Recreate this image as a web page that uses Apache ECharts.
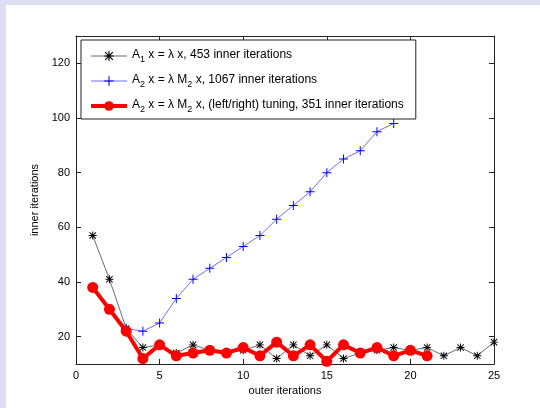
<!DOCTYPE html>
<html>
<head>
<meta charset="utf-8">
<script src="https://cdn.jsdelivr.net/npm/echarts@6/dist/echarts.min.js"></script>
<style>
html,body{margin:0;padding:0;background:#dedef2;}
#bg{position:absolute;left:6px;top:5px;width:534px;height:403px;background:#fff;}
#chart{position:absolute;left:0;top:0;width:540px;height:408px;}
</style>
</head>
<body>
<div id="bg"></div>
<div id="chart"></div>
<script>
// ---- data ----
const seriesNames = ['A1', 'A2', 'A2t'];
const legendMain = [
  ['A', '1', ' x = λ x, 453 inner iterations'],
  ['A', '2', ' x = λ M', '2', ' x, 1067 inner iterations'],
  ['A', '2', ' x = λ M', '2', ' x, (left/right) tuning, 351 inner iterations']
];
const a1Values = [57, 41, 23, 16, 17, 14, 17, 15, 14, 15, 17, 12, 17, 13, 17, 12, 14, 15, 16, 15, 16, 13, 16, 13, 18];
const a2Values = [38, 30, 23, 22, 25, 34, 41, 45, 49, 53, 57, 63, 68, 73, 80, 85, 88, 95, 98];
const a2tValues = [38, 30, 22, 12, 17, 13, 14, 15, 14, 16, 13, 18, 13, 17, 11, 17, 14, 16, 13, 15, 13];
const xTicks = [0, 5, 10, 15, 20, 25];
const yTicks = [20, 40, 60, 80, 100, 120];
const xLabel = 'outer iterations';
const yLabel = 'inner iterations';

const toPairs = vals => vals.map((v, i) => [i + 1, v]);

const starPath = 'path://M8.8 0h2.4v20h-2.4z M0 8.8h20v2.4h-20z M1.2 2.9L2.9 1.2L18.8 17.1L17.1 18.8z M17.1 1.2L18.8 2.9L2.9 18.8L1.2 17.1z';
const plusPath = 'path://M8.9 0h2.2v20h-2.2z M0 8.9h20v2.2h-20z';

const FONT = 'Liberation Sans, Arial, Helvetica, sans-serif';

const chart = echarts.init(document.getElementById('chart'), null, {renderer: 'canvas'});

function legendFmt(name) {
  const parts = legendMain[seriesNames.indexOf(name)];
  return parts.map((p, i) => (i % 2 === 1 ? '{s|' + p + '}' : '{n|' + p + '}')).join('');
}

const axisCommon = {
  axisLine: {show: true, onZero: false, lineStyle: {color: '#222', width: 1}},
  splitLine: {show: false}
};

chart.setOption({
  animation: false,
  backgroundColor: 'transparent',
  textStyle: {fontFamily: FONT},
  grid: {left: 76, right: 46, top: 36, bottom: 44, containLabel: false},
  legend: {
    orient: 'vertical',
    left: 81,
    top: 40,
    padding: [9, 12, 5, 8],
    itemGap: 10,
    itemWidth: 36,
    itemHeight: 12,
    backgroundColor: '#fff',
    borderColor: '#222',
    borderWidth: 1,
    lineStyle: {width: 'inherit'},
    data: seriesNames,
    formatter: legendFmt,
    textStyle: {
      fontFamily: FONT,
      rich: {
        n: {fontSize: 12, fontFamily: FONT, color: '#000', lineHeight: 14, verticalAlign: 'top'},
        s: {fontSize: 9, fontFamily: FONT, color: '#000', lineHeight: 10, padding: [6, 0, 0, 0], verticalAlign: 'top'}
      }
    }
  },
  xAxis: [
    Object.assign({
      type: 'value', min: 0, max: 25, interval: 5, position: 'bottom',
      name: xLabel, nameLocation: 'middle', nameGap: 21,
      nameTextStyle: {fontSize: 11, color: '#000', fontFamily: FONT},
      axisTick: {show: true, inside: true, length: 5, lineStyle: {color: '#222'}, customValues: xTicks},
      axisLabel: {fontSize: 11, color: '#000', margin: 6, fontFamily: FONT, customValues: xTicks}
    }, axisCommon),
    Object.assign({
      type: 'value', min: 0, max: 25, interval: 5, position: 'top',
      axisTick: {show: true, inside: true, length: 5, lineStyle: {color: '#222'}, customValues: xTicks},
      axisLabel: {show: false}
    }, axisCommon)
  ],
  yAxis: [
    Object.assign({
      type: 'value', min: 10, max: 130, interval: 10, position: 'left',
      name: yLabel, nameLocation: 'middle', nameGap: 29,
      nameTextStyle: {fontSize: 11, color: '#000', fontFamily: FONT},
      axisTick: {show: true, inside: true, length: 5, lineStyle: {color: '#222'}, customValues: yTicks},
      axisLabel: {fontSize: 11, color: '#000', margin: 6, fontFamily: FONT, customValues: yTicks}
    }, axisCommon),
    Object.assign({
      type: 'value', min: 10, max: 130, interval: 10, position: 'right',
      axisTick: {show: true, inside: true, length: 5, lineStyle: {color: '#222'}, customValues: yTicks},
      axisLabel: {show: false}
    }, axisCommon)
  ],
  series: [
    {
      name: 'A1', type: 'line', data: toPairs(a1Values),
      symbol: starPath, symbolSize: 8,
      lineStyle: {color: '#444', width: 0.8},
      itemStyle: {color: '#000'}
    },
    {
      name: 'A2', type: 'line', data: toPairs(a2Values),
      symbol: plusPath, symbolSize: 9,
      lineStyle: {color: '#5f5fff', width: 0.9},
      itemStyle: {color: '#0000ff'}
    },
    {
      name: 'A2t', type: 'line', data: toPairs(a2tValues),
      symbol: 'circle', symbolSize: 11,
      lineStyle: {color: '#ff0000', width: 4},
      itemStyle: {color: '#ff0000'}
    }
  ]
});
</script>
</body>
</html>
